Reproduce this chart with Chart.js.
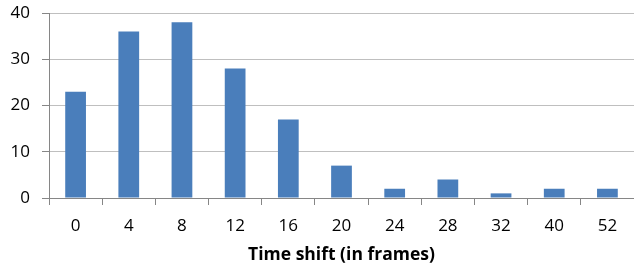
<!DOCTYPE html>
<html lang="en">
<head>
    <meta charset="UTF-8">
    <title>Time shift histogram</title>
    <script src="https://cdn.jsdelivr.net/npm/chart.js"></script>
    <style>
        html, body { margin: 0; padding: 0; background: #fff; }
        #wrap { width: 634px; height: 271px; }
    </style>
</head>
<body>
    <div id="wrap"><canvas id="shiftChart"></canvas></div>

    <script>
        // data
        const shifts = ["0", "4", "8", "12", "16", "20", "24", "28", "32", "40", "52"];
        const counts = [23, 36, 38, 28, 17, 7, 2, 4, 1, 2, 2];
        const yTicks = [0, 10, 20, 30, 40];
        const xTitle = "Time shift (in frames)";

        const font = { family: "'Open Sans', sans-serif", size: 17 };

        new Chart(document.getElementById("shiftChart").getContext("2d"), {
            type: "bar",
            data: {
                labels: shifts,
                datasets: [{
                    data: counts,
                    backgroundColor: "#4a7ebb",
                    borderWidth: 0,
                    categoryPercentage: 1,
                    barPercentage: 0.39
                }]
            },
            options: {
                responsive: true,
                maintainAspectRatio: false,
                animation: false,
                layout: { padding: { top: 13, right: 0, left: 0, bottom: 0 } },
                plugins: { legend: { display: false }, tooltip: { enabled: false } },
                scales: {
                    x: {
                        grid: {
                            drawOnChartArea: false,
                            drawTicks: true,
                            tickLength: 7,
                            color: "#868686"
                        },
                        border: { color: "#868686", width: 1 },
                        ticks: { color: "#000", font: font, padding: 11 },
                        title: {
                            display: true,
                            text: xTitle,
                            color: "#000",
                            font: { family: font.family, size: 17.5, weight: "bold" },
                            padding: { top: 0, bottom: 5 }
                        },
                        afterFit: s => { s.height = 73; s.paddingLeft = 0; s.paddingRight = 0; }
                    },
                    y: {
                        min: 0,
                        max: 40,
                        afterBuildTicks: s => { s.ticks = yTicks.map(v => ({ value: v })); },
                        grid: { color: "#bfbfbf", tickLength: 7, tickColor: "#868686" },
                        border: { color: "#868686", width: 1 },
                        ticks: { color: "#000", font: font, padding: 12 },
                        afterFit: s => { s.width = 49; s.paddingTop = 0; s.paddingBottom = 0; }
                    }
                }
            }
        });
    </script>
</body>
</html>
